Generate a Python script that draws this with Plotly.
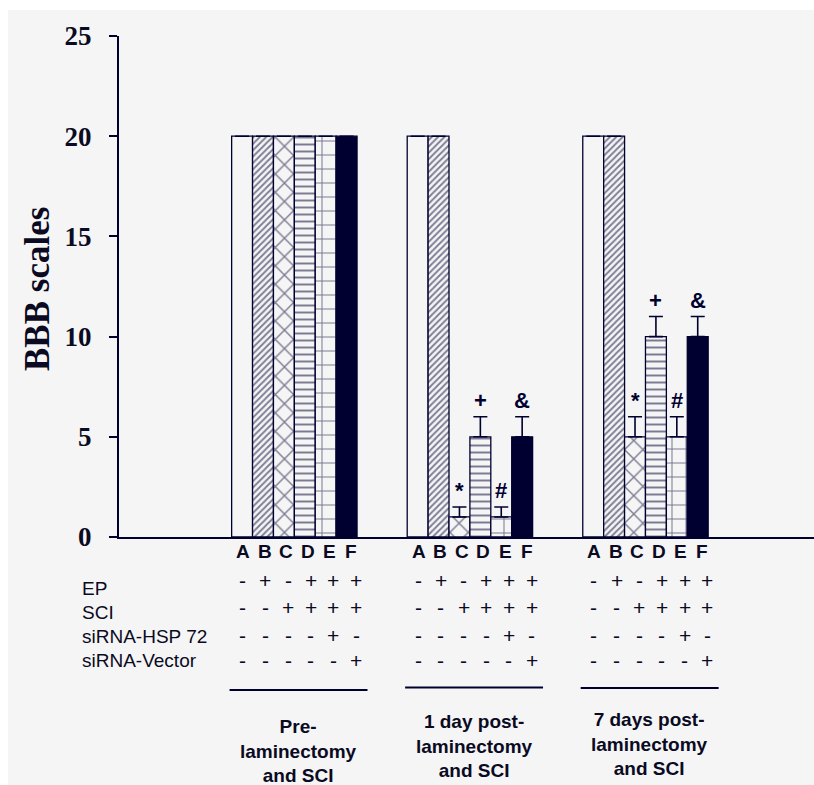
import plotly.graph_objects as go

# ---------------- data ----------------
groups = ["Pre-<br>laminectomy<br>and SCI",
          "1 day post-<br>laminectomy<br>and SCI",
          "7 days post-<br>laminectomy<br>and SCI"]
treatments = ["A", "B", "C", "D", "E", "F"]

val_A = [20, 20, 20]
val_B = [20, 20, 20]
val_C = [20, 1, 5]
val_D = [20, 5, 10]
val_E = [20, 1, 5]
val_F = [20, 5, 10]

err_A = [None, None, None]
err_B = [None, None, None]
err_C = [None, 0.5, 1]
err_D = [None, 1, 1]
err_E = [None, 0.5, 1]
err_F = [None, 1, 1]

sig_C = ["", "*", "*"]
sig_D = ["", "+", "+"]
sig_E = ["", "#", "#"]
sig_F = ["", "&", "&"]

row_labels = ["EP", "SCI", "siRNA-HSP 72", "siRNA-Vector"]
row_EP = ["-", "+", "-", "+", "+", "+"]
row_SCI = ["-", "-", "+", "+", "+", "+"]
row_HSP = ["-", "-", "-", "-", "+", "-"]
row_VEC = ["-", "-", "-", "-", "-", "+"]

y_ticks = [0, 5, 10, 15, 20, 25]

values = [val_A, val_B, val_C, val_D, val_E, val_F]
errors = [err_A, err_B, err_C, err_D, err_E, err_F]
sigs = [None, None, sig_C, sig_D, sig_E, sig_F]
rows = [row_EP, row_SCI, row_HSP, row_VEC]

# ---------------- style ----------------
NAVY = "#000030"
BG = "#f5f5f5"
TXT = "#0a0a22"
SANS = "Liberation Sans, Arial, sans-serif"
SERIF = "Liberation Serif, Times New Roman, serif"

W, H = 840, 800
ML, MR, MT, MB = 119, 0, 36, 263
PW, PH = W - ML - MR, H - MT - MB
GROUP_STEP = 8.4
XMIN = -5.89
XMAX = XMIN + PW / 20.9

def px_x(p):
    return (p - ML) / PW

def px_y(p):
    return (H - MB - p) / PH

patterns = [
    dict(shape=""),
    dict(shape="/", size=4.5, solidity=0.4),
    dict(shape="x", size=13, solidity=0.2),
    dict(shape="-", size=7, solidity=0.28),
    dict(shape="+", size=14, solidity=0.14),
    None,
]

fig = go.Figure()
xs_by_t = []
for i, t in enumerate(treatments):
    xs = [g * GROUP_STEP + i for g in range(len(groups))]
    xs_by_t.append(xs)
    if patterns[i] is None:
        marker = dict(color=NAVY, line=dict(color=NAVY, width=1.3))
    else:
        pat = dict(patterns[i])
        pat.update(fgcolor=NAVY, bgcolor=BG, fillmode="overlay")
        marker = dict(color=BG, line=dict(color=NAVY, width=1.3), pattern=pat)
    fig.add_trace(go.Bar(
        x=xs, y=values[i], width=1.0, name=t, marker=marker,
        error_y=dict(type="data", symmetric=False, array=errors[i],
                     arrayminus=[0 if e is not None else None for e in errors[i]],
                     color=NAVY, thickness=1.6, width=7),
        showlegend=False, hoverinfo="skip",
    ))

annotations = []
# significance symbols
for i in range(len(treatments)):
    if sigs[i] is None:
        continue
    for g in range(len(groups)):
        if not sigs[i][g]:
            continue
        top = values[i][g] + (errors[i][g] or 0)
        annotations.append(dict(
            x=xs_by_t[i][g], y=top, xref="x", yref="y", text="<b>%s</b>" % sigs[i][g],
            showarrow=False, yanchor="bottom", yshift=2,
            font=dict(family=SANS, size=22, color=NAVY)))

# category letters below the axis
for g in range(len(groups)):
    for i, t in enumerate(treatments):
        annotations.append(dict(
            x=g * GROUP_STEP + i * 1.035 + 0.04, y=0, xref="x", yref="paper",
            text="<b>%s</b>" % t, showarrow=False, yanchor="middle", yshift=-14,
            font=dict(family=SANS, size=19, color=TXT)))

# treatment table
sign_shift = [-43, -70, -98, -123]
label_shift = [-51, -75, -99, -123]
for r, lab in enumerate(row_labels):
    annotations.append(dict(
        x=px_x(80), y=0, xref="paper", yref="paper", text=lab, showarrow=False,
        xanchor="left", yanchor="middle", yshift=label_shift[r],
        font=dict(family=SANS, size=19, color=TXT)))
    for g in range(len(groups)):
        for i in range(len(treatments)):
            annotations.append(dict(
                x=g * GROUP_STEP + i * 1.085 + 0.03, y=0, xref="x", yref="paper",
                text=rows[r][i], showarrow=False, yanchor="middle",
                yshift=sign_shift[r],
                font=dict(family=SANS, size=21, color=TXT)))

# group labels
group_label_shift = [-214, -209, -207]
for g, gl in enumerate(groups):
    annotations.append(dict(
        x=g * GROUP_STEP + 2.7, y=0, xref="x", yref="paper",
        text="<b>%s</b>" % gl, showarrow=False, yanchor="middle",
        yshift=group_label_shift[g],
        font=dict(family=SANS, size=19, color=TXT)))

# y-axis title
annotations.append(dict(
    x=px_x(37), y=px_y(289), xref="paper", yref="paper",
    text="<b>BBB scales</b>", textangle=-90, showarrow=False,
    xanchor="center", yanchor="middle",
    font=dict(family=SERIF, size=35, color=TXT)))

shapes = [
    dict(type="rect", xref="paper", yref="paper", layer="below",
         x0=px_x(8), x1=1.1, y0=px_y(H + 20), y1=px_y(10),
         fillcolor=BG, line=dict(width=0)),
]
# underlines below table
line_y = [690, 687.5, 688]
for g in range(len(groups)):
    c = g * GROUP_STEP + 2.7
    x0 = ML + (c - 3.3 - XMIN) / (XMAX - XMIN) * PW
    x1 = ML + (c + 3.3 - XMIN) / (XMAX - XMIN) * PW
    shapes.append(dict(type="line", xref="paper", yref="paper",
                       x0=px_x(x0), x1=px_x(x1), y0=px_y(line_y[g]), y1=px_y(line_y[g]),
                       line=dict(color=NAVY, width=2)))

fig.update_layout(
    width=W, height=H,
    margin=dict(l=ML, r=MR, t=MT, b=MB, autoexpand=False),
    paper_bgcolor="#ffffff", plot_bgcolor="rgba(0,0,0,0)",
    barmode="overlay",
    showlegend=False,
    hovermode=False,
    annotations=annotations,
    shapes=shapes,
    xaxis=dict(range=[XMIN, XMAX], showgrid=False, zeroline=False,
               showticklabels=False, ticks="", showline=True,
               linecolor=NAVY, linewidth=2, automargin=False, fixedrange=True),
    yaxis=dict(range=[0, 25], tickvals=y_ticks, showgrid=False, zeroline=False,
               showline=True, linecolor=NAVY, linewidth=2,
               ticks="outside", ticklen=8, tickwidth=2, tickcolor=NAVY,
               ticklabelstandoff=12,
               tickfont=dict(family=SERIF, size=27, color=TXT, weight="bold"),
               automargin=False, fixedrange=True),
)

fig.write_html(
    "out.html",
    config={"displayModeBar": False, "staticPlot": True},
    post_script=(
        "document.body.style.margin='0px';"
        "document.body.style.overflow='hidden';"
        "document.documentElement.style.overflow='hidden';"
        "document.documentElement.style.background='%s';"
        "document.body.style.background='%s';" % (BG, BG)
    ),
)
